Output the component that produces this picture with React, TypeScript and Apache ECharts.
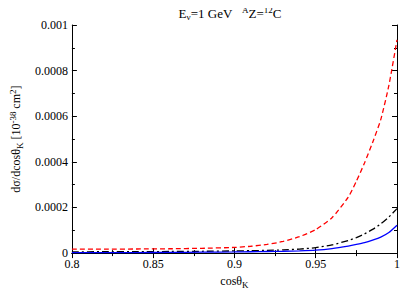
import React, { useEffect, useRef } from "react";
import * as echarts from "echarts";

const xs = [0.8, 0.82, 0.84, 0.86, 0.88, 0.9, 0.91, 0.92, 0.93, 0.94, 0.95, 0.96, 0.97, 0.975, 0.98, 0.985, 0.99, 0.995, 1.0];
// values in units of 1e-5
const redDashed = [1.7, 1.75, 1.8, 1.9, 2.1, 2.5, 3.0, 3.8, 5.1, 7.2, 10.3, 15.5, 24.5, 31.5, 39.5, 48.5, 58.5, 73.5, 93.5];
const blackDashDot = [0.55, 0.6, 0.65, 0.7, 0.8, 0.95, 1.05, 1.2, 1.4, 1.75, 2.4, 3.6, 5.5, 6.8, 8.4, 10.4, 12.8, 15.8, 19.5];
const blueSolid = [0.2, 0.22, 0.25, 0.3, 0.4, 0.5, 0.6, 0.7, 0.82, 1.0, 1.3, 2.0, 3.1, 3.8, 4.6, 5.7, 7.0, 9.0, 12.2];
const xTickLabels: Record<string, string> = { "0.8": "0.8", "0.85": "0.85", "0.9": "0.9", "0.95": "0.95", "1": "1" };
const yTickLabels: Record<string, string> = { "0": "0", "0.0002": "0.0002", "0.0004": "0.0004", "0.0006": "0.0006", "0.0008": "0.0008", "0.001": "0.001" };
const titleText = "{n|E}{sub|ν}{n|=1 GeV   }{sup|A}{n|Z=}{sup|12}{n|C}";

const FONT = "Liberation Serif";

function pairs(vals: number[]) {
  return xs.map((x, i) => [x, vals[i] * 1e-5]);
}

export default function App() {
  const ref = useRef<HTMLDivElement>(null);
  useEffect(() => {
    if (!ref.current) return;
    const chart = echarts.init(ref.current, undefined, { renderer: "svg" });
    const axisLine = { show: true, lineStyle: { color: "#000", width: 1 } };
    const textBase = { fontFamily: FONT, color: "#000" };
    const tick = { show: true, inside: true, length: 5, lineStyle: { color: "#000" } };
    const minor = { show: true, splitNumber: 2, length: 3, lineStyle: { color: "#000" } };
    chart.setOption({
      animation: false,
      backgroundColor: "#fff",
      graphic: [
        {
          type: "text",
          x: 230,
          y: 13,
          style: {
            text: titleText,
            align: "center",
            verticalAlign: "middle",
            fontFamily: FONT,
            fontSize: 13,
            fill: "#000",
            rich: {
              n: { fontFamily: FONT, fontSize: 13, fill: "#000" },
              sub: { fontFamily: FONT, fontSize: 9, fill: "#000", padding: [7, 0, 0, 0] },
              sup: { fontFamily: FONT, fontSize: 9, fill: "#000", padding: [0, 0, 6, 0] },
            },
          },
        },
      ],
      grid: { left: 62, right: 18, top: 25, bottom: 38.5 },
      xAxis: [
        {
          type: "value",
          min: 0.8,
          max: 1.0,
          interval: 0.05,
          axisLine,
          axisTick: tick,
          minorTick: minor,
          splitLine: { show: false },
          axisLabel: {
            ...textBase,
            fontSize: 12,
            margin: 5,
            formatter: (v: number) => xTickLabels[String(+v.toFixed(3))] ?? "",
          },
          name: "{n|cosθ}{sub|K}",
          nameLocation: "middle",
          nameGap: 18,
          nameTextStyle: {
            ...textBase,
            fontSize: 12,
            rich: {
              n: { ...textBase, fontSize: 12 },
              sub: { ...textBase, fontSize: 9, padding: [7, 0, 0, 0] },
            },
          },
        },
        {
          type: "value",
          position: "top",
          min: 0.8,
          max: 1.0,
          interval: 0.05,
          axisLine,
          axisTick: tick,
          minorTick: minor,
          splitLine: { show: false },
          axisLabel: { show: false },
        },
      ],
      yAxis: [
        {
          type: "value",
          min: 0,
          max: 0.001,
          interval: 0.0002,
          axisLine,
          axisTick: tick,
          minorTick: minor,
          splitLine: { show: false },
          axisLabel: {
            ...textBase,
            fontSize: 12,
            margin: 4,
            formatter: (v: number) => yTickLabels[String(+v.toFixed(5))] ?? "",
          },
          name: "{n|dσ/dcosθ}{sub|K}{n| [10}{sup|-38}{n| cm}{sup|2}{n|]}",
          nameLocation: "middle",
          nameRotate: 90,
          nameGap: 42,
          nameTextStyle: {
            ...textBase,
            fontSize: 12,
            rich: {
              n: { ...textBase, fontSize: 12 },
              sub: { ...textBase, fontSize: 9, padding: [7, 0, 0, 0] },
              sup: { ...textBase, fontSize: 9, padding: [0, 0, 7, 0] },
            },
          },
        },
        {
          type: "value",
          position: "right",
          min: 0,
          max: 0.001,
          interval: 0.0002,
          axisLine,
          axisTick: tick,
          minorTick: minor,
          splitLine: { show: false },
          axisLabel: { show: false },
        },
      ],
      series: [
        {
          type: "line",
          data: pairs(redDashed),
          smooth: 0.2,
          showSymbol: false,
          lineStyle: { color: "#ff0000", width: 1.3, type: [5, 3] },
        },
        {
          type: "line",
          data: pairs(blackDashDot),
          smooth: 0.2,
          showSymbol: false,
          lineStyle: { color: "#000", width: 1.3, type: [7, 3, 2, 3] },
        },
        {
          type: "line",
          data: pairs(blueSolid),
          smooth: 0.2,
          showSymbol: false,
          lineStyle: { color: "#0000ff", width: 1.3 },
        },
      ],
    });
    return () => chart.dispose();
  }, []);
  return <div ref={ref} style={{ width: 415, height: 294, margin: "-8px 0 0 -8px" }} />;
}
